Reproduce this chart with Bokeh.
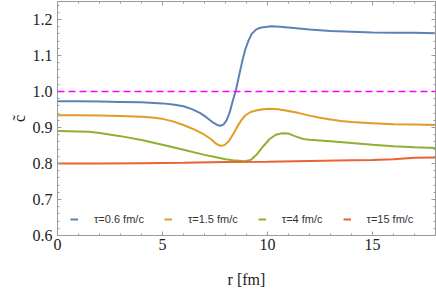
from bokeh.plotting import figure
from bokeh.models import (LinearAxis, SingleIntervalTicker, Range1d, Legend,
                          LegendItem, Span, PrintfTickFormatter)
from bokeh.embed import file_html
from bokeh.resources import INLINE

# ---- data ----
r_blue = [0, 1, 2, 3, 4, 5, 5.5, 6, 6.4, 6.8, 7.1, 7.4, 7.6, 7.75, 7.9, 8.05, 8.2,
          8.35, 8.5, 8.65, 8.8, 8.95, 9.1, 9.25, 9.45, 9.65, 9.9, 10.2, 10.6, 11,
          11.5, 12, 12.5, 13, 14, 15, 16, 17, 18]
c_blue = [0.973, 0.973, 0.972, 0.971, 0.970, 0.967, 0.964, 0.959, 0.951, 0.940,
          0.928, 0.914, 0.907, 0.905, 0.908, 0.920, 0.942, 0.975, 1.005, 1.045,
          1.085, 1.118, 1.142, 1.160, 1.172, 1.177, 1.179, 1.181, 1.180, 1.178,
          1.175, 1.172, 1.170, 1.168, 1.166, 1.164, 1.163, 1.163, 1.162]

r_orange = [0, 1, 2, 3, 4, 4.5, 5, 5.5, 6, 6.5, 7, 7.3, 7.55, 7.75, 7.95, 8.15,
            8.35, 8.55, 8.75, 8.95, 9.2, 9.5, 9.8, 10.1, 10.5, 11, 11.5, 12, 12.5,
            13, 13.5, 14, 15, 16, 17, 18]
c_orange = [0.934, 0.934, 0.933, 0.932, 0.930, 0.928, 0.924, 0.917, 0.907, 0.895,
            0.880, 0.868, 0.855, 0.849, 0.851, 0.862, 0.880, 0.901, 0.920, 0.934,
            0.943, 0.948, 0.951, 0.952, 0.951, 0.946, 0.940, 0.933, 0.927, 0.922,
            0.918, 0.915, 0.912, 0.909, 0.908, 0.907]

r_green = [0, 1, 1.5, 2, 3, 4, 5, 6, 7, 7.5, 8, 8.5, 8.9, 9.2, 9.5, 9.8, 10.1,
           10.4, 10.7, 11, 11.3, 11.7, 12, 12.5, 13, 14, 15, 16, 17, 18]
c_green = [0.890, 0.889, 0.888, 0.885, 0.876, 0.865, 0.852, 0.838, 0.824, 0.818,
           0.812, 0.808, 0.806, 0.810, 0.826, 0.848, 0.868, 0.880, 0.884, 0.883,
           0.876, 0.868, 0.866, 0.864, 0.862, 0.857, 0.852, 0.848, 0.845, 0.843]

r_red = [0, 2, 4, 6, 8, 10, 12, 14, 15, 16, 16.5, 17, 18]
c_red = [0.800, 0.800, 0.801, 0.802, 0.804, 0.805, 0.807, 0.809, 0.810, 0.812,
         0.814, 0.816, 0.817]

labels = ["\u03c4=0.6 fm/c", "\u03c4=1.5 fm/c", "\u03c4=4 fm/c", "\u03c4=15 fm/c"]
colors = ["#5E81B5", "#E19C24", "#8FB032", "#EB6235"]
ref_level = 1.0
x_lim = (0, 18)
y_lim = (0.6, 1.25)

# ---- figure ----
p = figure(frame_width=378, frame_height=234, output_backend="svg",
           toolbar_location=None, x_range=Range1d(*x_lim), y_range=Range1d(*y_lim),
           min_border_left=57, min_border_right=1, min_border_top=1,
           min_border_bottom=55, background_fill_color="white")
p.outline_line_color = None
p.xgrid.visible = False
p.ygrid.visible = False

frame_col = "#9a9a9a"
text_col = "#222222"

def style(ax):
    ax.axis_line_color = frame_col
    ax.major_tick_line_color = frame_col
    ax.minor_tick_line_color = frame_col
    ax.major_tick_in = 4
    ax.major_tick_out = 0
    ax.minor_tick_in = 2
    ax.minor_tick_out = 0

xaxis = p.xaxis[0]
yaxis = p.yaxis[0]
xaxis.ticker = SingleIntervalTicker(interval=5, num_minor_ticks=5)
yaxis.ticker = SingleIntervalTicker(interval=0.1, num_minor_ticks=5)
yaxis.formatter = PrintfTickFormatter(format="%.1f")
style(xaxis)
style(yaxis)

for ax in (xaxis, yaxis):
    ax.major_label_text_font = "Liberation Serif"
    ax.major_label_text_font_size = "16px"
    ax.major_label_text_color = text_col
xaxis.major_label_standoff = 3
yaxis.major_label_standoff = 5

xaxis.axis_label = "r [fm]"
yaxis.axis_label = "c\u0303"
for ax in (xaxis, yaxis):
    ax.axis_label_text_font = "Liberation Serif"
    ax.axis_label_text_font_size = "16px"
    ax.axis_label_text_font_style = "normal"
    ax.axis_label_text_color = text_col
xaxis.axis_label_standoff = 18
yaxis.axis_label_standoff = 2

top = LinearAxis(ticker=SingleIntervalTicker(interval=5, num_minor_ticks=5))
right = LinearAxis(ticker=SingleIntervalTicker(interval=0.1, num_minor_ticks=5))
for ax in (top, right):
    style(ax)
    ax.major_label_text_font_size = "1px"
    ax.major_label_text_color = None
    ax.major_label_text_alpha = 0
    ax.major_label_standoff = 0
p.add_layout(top, "above")
p.add_layout(right, "right")

p.add_layout(Span(location=ref_level, dimension="width", line_color="#FF00FF",
                  line_dash="7 4", line_width=1.5))

series = [(r_blue, c_blue), (r_orange, c_orange), (r_green, c_green), (r_red, c_red)]
items = []
for (xs, ys), lab, col in zip(series, labels, colors):
    rr = p.line(xs, ys, line_color=col, line_width=2)
    items.append(LegendItem(label=lab, renderers=[rr]))

legend = Legend(items=items, orientation="horizontal", location=(13, 9),
                padding=0, spacing=20, margin=0, glyph_width=8, glyph_height=14,
                label_height=14, label_standoff=16,
                label_text_font="Liberation Sans", label_text_font_size="11px",
                label_text_color="#333333",
                background_fill_alpha=0, border_line_alpha=0)
p.add_layout(legend)

open("out.html", "w").write(file_html(p, INLINE))
